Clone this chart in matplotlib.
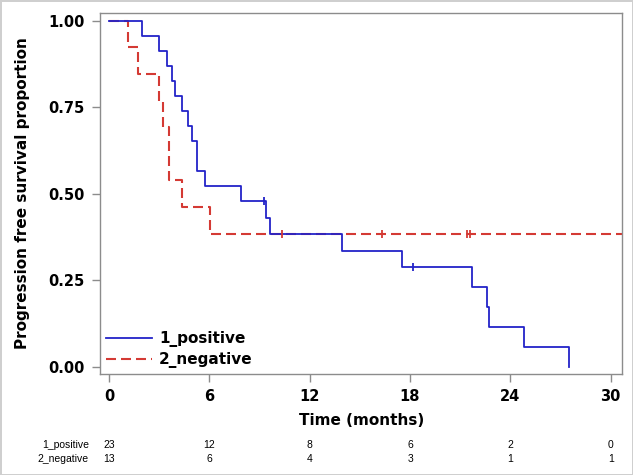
import numpy as np
import matplotlib
matplotlib.use('Agg')
import matplotlib.pyplot as plt

# time (months) and status (1 = progression, 0 = censored)
pos_time = [1.99, 2.99, 3.48, 3.74, 3.94, 4.34, 4.73, 4.94, 5.24, 5.24, 5.73,
            7.88, 9.25, 9.41, 9.61, 13.93, 17.49, 18.17, 21.71, 22.61, 22.70,
            24.79, 27.52]
pos_event = [1, 1, 1, 1, 1, 1, 1, 1, 1, 1, 1,
             1, 0, 1, 1, 1, 1, 0, 1, 1, 1,
             1, 1]
neg_time = [1.12, 1.71, 2.99, 3.24, 3.60, 3.60, 4.38, 6.03, 10.33, 16.32,
            21.39, 21.59, 31.5]
neg_event = [1, 1, 1, 1, 1, 1, 1, 1, 0, 0, 0, 0, 0]

risk_times = [0, 6, 12, 18, 24, 30]
pos_risk = [23, 12, 8, 6, 2, 0]
neg_risk = [13, 6, 4, 3, 1, 1]
group_names = ['1_positive', '2_negative']


def km_curve(time, event):
    time = np.asarray(time, dtype=float)
    event = np.asarray(event)
    xs, ys = [0.0], [1.0]
    s = 1.0
    cens = []
    for t in np.unique(time):
        n = np.sum(time >= t)
        d = np.sum((time == t) & (event == 1))
        if d > 0:
            s = s * (1 - d / n)
            xs.append(t)
            ys.append(s)
        if np.any((time == t) & (event == 0)):
            cens.append((t, s))
    xs.append(time.max())
    ys.append(s)
    return np.array(xs), np.array(ys), cens


fig = plt.figure(figsize=(6.33, 4.75), dpi=100, facecolor='white',
                 edgecolor='#cfcfcf', linewidth=2)
ax = fig.add_axes([0.158, 0.2126, 0.825, 0.76])

blue = '#2323c8'
red = '#d43a34'

x1, y1, c1 = km_curve(pos_time, pos_event)
x2, y2, c2 = km_curve(neg_time, neg_event)

ax.step(x2, y2, where='post', color=red, lw=1.5, dashes=[4.8, 2.4],
        label=group_names[1], zorder=2)
ax.step(x1, y1, where='post', color=blue, lw=1.3, label=group_names[0],
        zorder=3)
if c1:
    ax.plot([c[0] for c in c1], [c[1] for c in c1], '|', color=blue, ms=6,
            mew=1.3, zorder=4)
if c2:
    ax.plot([c[0] for c in c2], [c[1] for c in c2], '|', color=red, ms=6,
            mew=1.3, zorder=4)

ax.set_xlim(-0.54, 30.69)
ax.set_ylim(-0.021, 1.022)
ax.set_xticks(risk_times)
ax.set_yticks([0, 0.25, 0.5, 0.75, 1.0])
ax.set_yticklabels(['0.00', '0.25', '0.50', '0.75', '1.00'])
for sp in ax.spines.values():
    sp.set_color('#8c8c8c')
    sp.set_linewidth(1.0)
ax.tick_params(colors='#8c8c8c', length=6, width=1, labelcolor='black',
               labelsize=10.5, pad=5)
for lab in ax.get_xticklabels() + ax.get_yticklabels():
    lab.set_fontweight('bold')

ax.set_ylabel('Progression free survival proportion', fontsize=11,
              fontweight='bold', labelpad=13)
ax.set_xlabel('Time (months)', fontsize=11, fontweight='bold', labelpad=6)

h, l = ax.get_legend_handles_labels()
ax.legend(h[::-1], l[::-1], loc='lower left', frameon=False,
          prop={'size': 11, 'weight': 'bold'}, handlelength=3.0,
          handletextpad=0.45, labelspacing=0.3, borderaxespad=0.0,
          bbox_to_anchor=(0.0, 0.0))

# number at risk table
for row, (name, vals) in enumerate(zip(group_names, [pos_risk, neg_risk])):
    ypix = 445 + row * 14
    yfig = 1 - ypix / 475
    fig.text(89 / 633, yfig, name, ha='right', va='center', fontsize=7.5,
             family='Liberation Sans')
    for t, v in zip(risk_times, vals):
        xd = ax.transData.transform((t, 0))[0]
        fig.text(xd / 633, yfig, str(v), ha='center', va='center',
                 fontsize=7.5, family='Liberation Sans')

fig.savefig('out.png', dpi=100, facecolor=fig.get_facecolor(),
            edgecolor=fig.get_edgecolor())
